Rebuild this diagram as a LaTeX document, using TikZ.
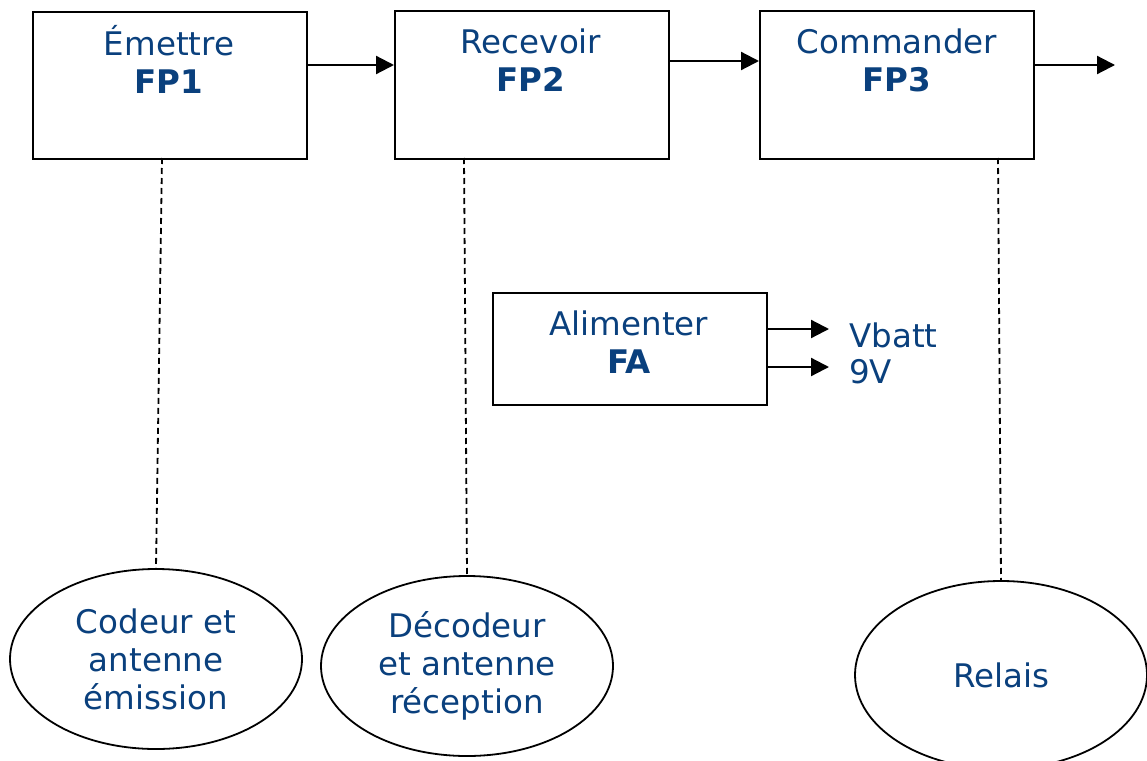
\documentclass[tikz,border=0pt]{standalone}
\usepackage{fontspec}
\setmainfont{DejaVu Sans}
\usetikzlibrary{arrows.meta,shapes.geometric}
\definecolor{txt}{RGB}{10,64,125}
\begin{document}
\begin{tikzpicture}[x=1pt,y=-1pt,
  fbox/.style={draw,line width=2.2pt,minimum width=274pt,inner sep=0pt,anchor=north west},
  lbl/.style={text=txt,font=\fontsize{32.5}{38}\selectfont,align=center,inner sep=0pt},
  ell/.style={draw,line width=1.8pt,ellipse,inner sep=0pt,minimum width=292pt,minimum height=180pt},
  arr/.style={line width=2.2pt,-{Triangle[length=18pt,width=18pt]}},
  dsh/.style={line width=1.8pt,dash pattern=on 6pt off 4pt}]
\useasboundingbox (0,0) rectangle (1147,760);
% boxes
\node[fbox,minimum height=147pt] (fp1) at (32,11) {};
\node[fbox,minimum height=148pt] (fp2) at (394,10) {};
\node[fbox,minimum height=148pt] (fp3) at (759,10) {};
\node[fbox,minimum height=112pt] (fa) at (492,292) {};
% box texts
\node[lbl,anchor=north] (t1) at (169,25) {Émettre\\\textbf{FP1}};
\node[lbl,anchor=north] (t2) at (531,29) {Recevoir\\\textbf{FP2}};
\node[lbl,anchor=north] (t3) at (897,29) {Commander\\\textbf{FP3}};
\node[lbl,anchor=north] (t4) at (629,311) {Alimenter\\\textbf{FA}};
% arrows
\draw[arr] (fp1.east |- 0,65) -- (fp2.west |- 0,65);
\draw[arr] (fp2.east |- 0,61) -- (fp3.west |- 0,61);
\coordinate (out) at (1115,65);
\draw[arr] (fp3.east |- 0,65) -- (out);
\coordinate (v1) at (829,329);
\coordinate (v2) at (829,367);
\draw[arr] (fa.east |- 0,329) -- (v1);
\draw[arr] (fa.east |- 0,367) -- (v2);
\node[lbl,anchor=north west,align=left,font=\fontsize{32.5}{36}\selectfont] (vb) at (849,323) {Vbatt\\9V};
% ellipses
\node[ell,lbl,draw=black] (e1) at (156,659) {Codeur et\\antenne\\émission};
\node[ell,lbl,draw=black] (e2) at (467,666) {Décodeur\\et antenne\\réception};
\node[ell,lbl,draw=black,minimum height=188pt] (e3) at (1001,675) {Relais};
% dashed links
\draw[dsh] (162,158) -- (e1.north);
\draw[dsh] (464,158) -- (e2.north);
\draw[dsh] (998,158) -- (e3.north);
\end{tikzpicture}
\end{document}
